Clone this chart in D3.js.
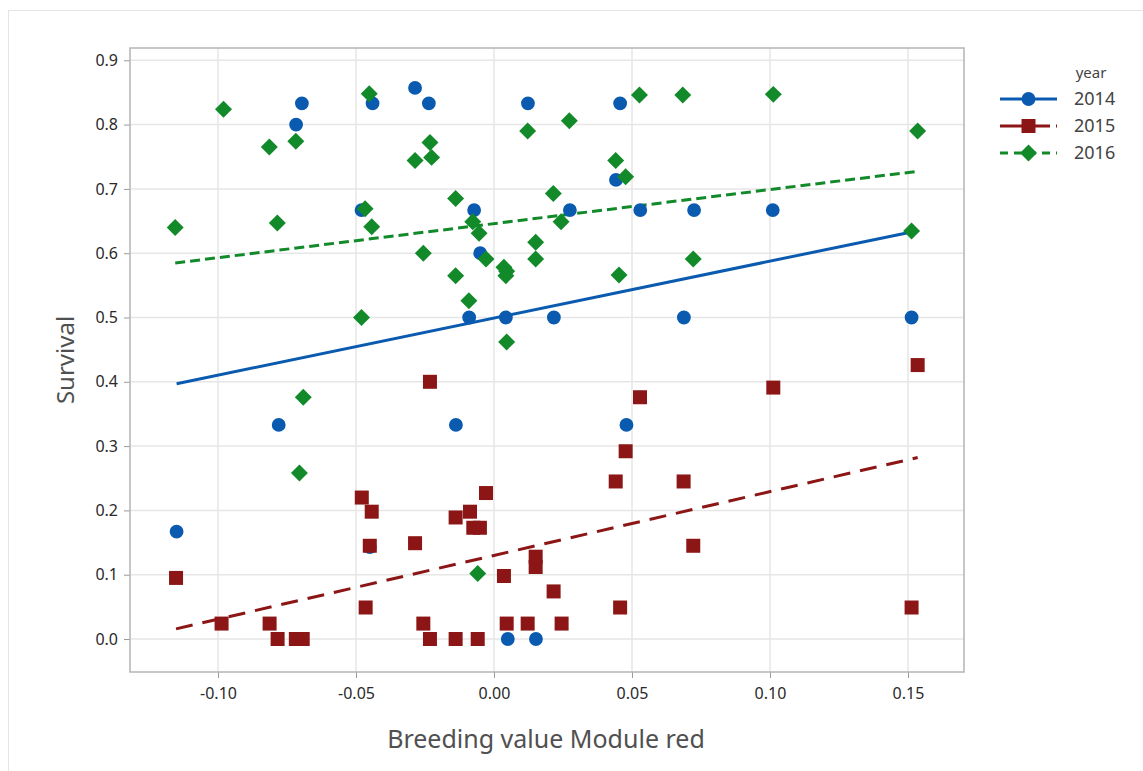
<!DOCTYPE html>
<html>
<head>
<meta charset="utf-8">
<script src="https://cdn.jsdelivr.net/npm/d3@7"></script>
<style>
  body { margin: 0; background: #fff; }
  text { font-family: "Noto Sans", "Open Sans", sans-serif; }
</style>
</head>
<body>
<div id="chart"></div>
<script>
// survival vs breeding value, one series per year
var years = ["2014", "2015", "2016"];

var x2014 = [-0.115, -0.078, -0.0717, -0.0696, -0.048, -0.044, -0.045, -0.0286, -0.0236, -0.0138,
    -0.009, -0.0072, -0.005, 0.0043, 0.005, 0.0123, 0.0152, 0.0217, 0.0275, 0.0442,
    0.0457, 0.048, 0.053, 0.0688, 0.0725, 0.101, 0.1513];
var y2014 = [0.167, 0.333, 0.8, 0.833, 0.667, 0.833, 0.143, 0.857, 0.833, 0.333,
    0.5, 0.667, 0.6, 0.5, 0, 0.833, 0, 0.5, 0.667, 0.714,
    0.833, 0.333, 0.667, 0.5, 0.667, 0.667, 0.5];

var x2015 = [-0.1152, -0.0987, -0.0813, -0.0784, -0.0718, -0.0693, -0.0479, -0.0443, -0.045, -0.0465,
    -0.0286, -0.0232, -0.0256, -0.0232, -0.0139, -0.0059, -0.0139, -0.0087, -0.0075, -0.0051,
    -0.0029, 0.0036, 0.0046, 0.0122, 0.0151, 0.0151, 0.0216, 0.0245, 0.0441, 0.0477,
    0.0529, 0.0457, 0.0687, 0.0722, 0.1012, 0.1535, 0.1513];
var y2015 = [0.095, 0.024, 0.024, 0, 0, 0, 0.22, 0.198, 0.145, 0.049,
    0.149, 0.40, 0.024, 0, 0, 0, 0.189, 0.198, 0.173, 0.173,
    0.227, 0.098, 0.024, 0.024, 0.128, 0.112, 0.074, 0.024, 0.245, 0.292,
    0.376, 0.049, 0.245, 0.145, 0.391, 0.426, 0.049];

var x2016 = [-0.1155, -0.098, -0.0814, -0.0718, -0.0785, -0.0452, -0.0467, -0.0443, -0.048, -0.0286,
    -0.0232, -0.0226, -0.0139, -0.0256, -0.0139, -0.0091, -0.0077, -0.0054, -0.0029, 0.0036,
    0.0046, 0.0043, 0.0046, 0.0122, 0.0273, 0.0215, 0.0243, 0.0151, 0.0151, 0.0441,
    0.0477, 0.0453, 0.0527, 0.0684, 0.0722, 0.1012, 0.1535, 0.1513, -0.0691, -0.0705, -0.0059];
var y2016 = [0.640, 0.824, 0.765, 0.774, 0.647, 0.848, 0.669, 0.641, 0.50, 0.744,
    0.772, 0.749, 0.685, 0.60, 0.565, 0.526, 0.649, 0.631, 0.591, 0.578,
    0.572, 0.565, 0.462, 0.790, 0.806, 0.693, 0.649, 0.617, 0.591, 0.744,
    0.719, 0.566, 0.846, 0.846, 0.591, 0.847, 0.790, 0.6345, 0.376, 0.258, 0.102];

// fitted lines y = a + b*x
var fitIntercept = [0.499, 0.130, 0.646];
var fitSlope = [0.886, 0.992, 0.53];

var xTicks = [-0.10, -0.05, 0.00, 0.05, 0.10, 0.15];
var yTicks = [0.0, 0.1, 0.2, 0.3, 0.4, 0.5, 0.6, 0.7, 0.8, 0.9];

var colors = ["#0a5bb0", "#8c1515", "#128a2a"];
var dashes = [null, "17,10", "10,5"];
var legendDashes = [null, "22,6", "8,6"];
var symbols = [d3.symbolCircle, d3.symbolSquare, d3.symbolSquare];
var symSize = [150, 196, 144];
var symRotate = [0, 0, 45];

var xs = [x2014, x2015, x2016], ys = [y2014, y2015, y2016];

var W = 1143, H = 771;
var plot = {left: 130, right: 964, top: 48, bottom: 672};

var svg = d3.select("#chart").append("svg")
    .attr("width", W)
    .attr("height", H);

// outer panel
svg.append("rect")
    .attr("x", 8.5).attr("y", 10.5)
    .attr("width", W).attr("height", H)
    .attr("fill", "#fff")
    .attr("stroke", "#e4e4e4");

var x = d3.scaleLinear().domain([-0.13188, 0.17029]).range([plot.left, plot.right]);
var y = d3.scaleLinear().domain([-0.0513, 0.9191]).range([plot.bottom, plot.top]);

// grid
svg.append("g").selectAll("line")
    .data(xTicks).enter().append("line")
    .attr("x1", function(d) { return x(d); })
    .attr("x2", function(d) { return x(d); })
    .attr("y1", plot.top).attr("y2", plot.bottom)
    .attr("stroke", "#e6e6e6").attr("stroke-width", 1.5);
svg.append("g").selectAll("line")
    .data(yTicks).enter().append("line")
    .attr("y1", function(d) { return y(d); })
    .attr("y2", function(d) { return y(d); })
    .attr("x1", plot.left).attr("x2", plot.right)
    .attr("stroke", "#e6e6e6").attr("stroke-width", 1.5);

// axes (plain hyphen for negatives, as in the original)
var fx = d3.format(".2f"), fy = d3.format(".1f");
var xAxis = svg.append("g")
    .attr("transform", "translate(0," + plot.bottom + ")")
    .call(d3.axisBottom(x).tickValues(xTicks)
        .tickFormat(function(d) { return fx(d).replace("\u2212", "-"); })
        .tickSize(6).tickPadding(10));
var yAxis = svg.append("g")
    .attr("transform", "translate(" + plot.left + ",0)")
    .call(d3.axisLeft(y).tickValues(yTicks).tickFormat(fy).tickSize(6).tickPadding(6));
[xAxis, yAxis].forEach(function(a) {
    a.select(".domain").remove();
    a.selectAll(".tick line").attr("stroke", "#9a9a9a");
    a.selectAll(".tick text")
        .attr("fill", "#2a2a2a")
        .style("font-size", "16px")
        .style("font-family", "'Noto Sans', sans-serif");
});

// frame
svg.append("rect")
    .attr("x", plot.left).attr("y", plot.top)
    .attr("width", plot.right - plot.left)
    .attr("height", plot.bottom - plot.top)
    .attr("fill", "none")
    .attr("stroke", "#b4b4b4")
    .attr("stroke-width", 1.5);

// fit lines
years.forEach(function(yr, i) {
    var ext = d3.extent(xs[i]);
    svg.append("line")
        .attr("x1", x(ext[0]))
        .attr("y1", y(fitIntercept[i] + fitSlope[i] * ext[0]))
        .attr("x2", x(ext[1]))
        .attr("y2", y(fitIntercept[i] + fitSlope[i] * ext[1]))
        .attr("stroke", colors[i])
        .attr("stroke-width", 3)
        .attr("stroke-dasharray", dashes[i]);
});

// points, drawn in year order so 2016 sits on top
years.forEach(function(yr, i) {
    var pts = xs[i].map(function(v, j) { return [v, ys[i][j]]; });
    svg.append("g").selectAll("path")
        .data(pts).enter().append("path")
        .attr("d", d3.symbol().type(symbols[i]).size(symSize[i]))
        .attr("transform", function(d) {
            return "translate(" + x(d[0]) + "," + y(d[1]) + ") rotate(" + symRotate[i] + ")";
        })
        .attr("fill", colors[i]);
});

// axis titles
svg.append("text")
    .attr("x", (plot.left + plot.right) / 2 - 1)
    .attr("y", 748)
    .attr("text-anchor", "middle")
    .attr("fill", "#505050")
    .style("font-size", "25px")
    .text("Breeding value Module red");
svg.append("text")
    .attr("transform", "translate(74," + ((plot.top + plot.bottom) / 2) + ") rotate(-90)")
    .attr("text-anchor", "middle")
    .attr("fill", "#505050")
    .style("font-size", "24px")
    .text("Survival");

// legend
var leg = svg.append("g").attr("transform", "translate(1000,0)");
leg.append("text")
    .attr("x", 91).attr("y", 78)
    .attr("text-anchor", "middle")
    .attr("fill", "#444")
    .style("font-size", "15px")
    .text("year");
years.forEach(function(yr, i) {
    var ly = 99 + i * 27;
    leg.append("line")
        .attr("x1", 0).attr("x2", 57)
        .attr("y1", ly).attr("y2", ly)
        .attr("stroke", colors[i])
        .attr("stroke-width", 3)
        .attr("stroke-dasharray", legendDashes[i]);
    leg.append("path")
        .attr("d", d3.symbol().type(symbols[i]).size(symSize[i]))
        .attr("transform", "translate(28.5," + ly + ") rotate(" + symRotate[i] + ")")
        .attr("fill", colors[i]);
    leg.append("text")
        .attr("x", 74).attr("y", ly + 6)
        .attr("fill", "#444")
        .style("font-size", "18px")
        .text(yr);
});
</script>
</body>
</html>
